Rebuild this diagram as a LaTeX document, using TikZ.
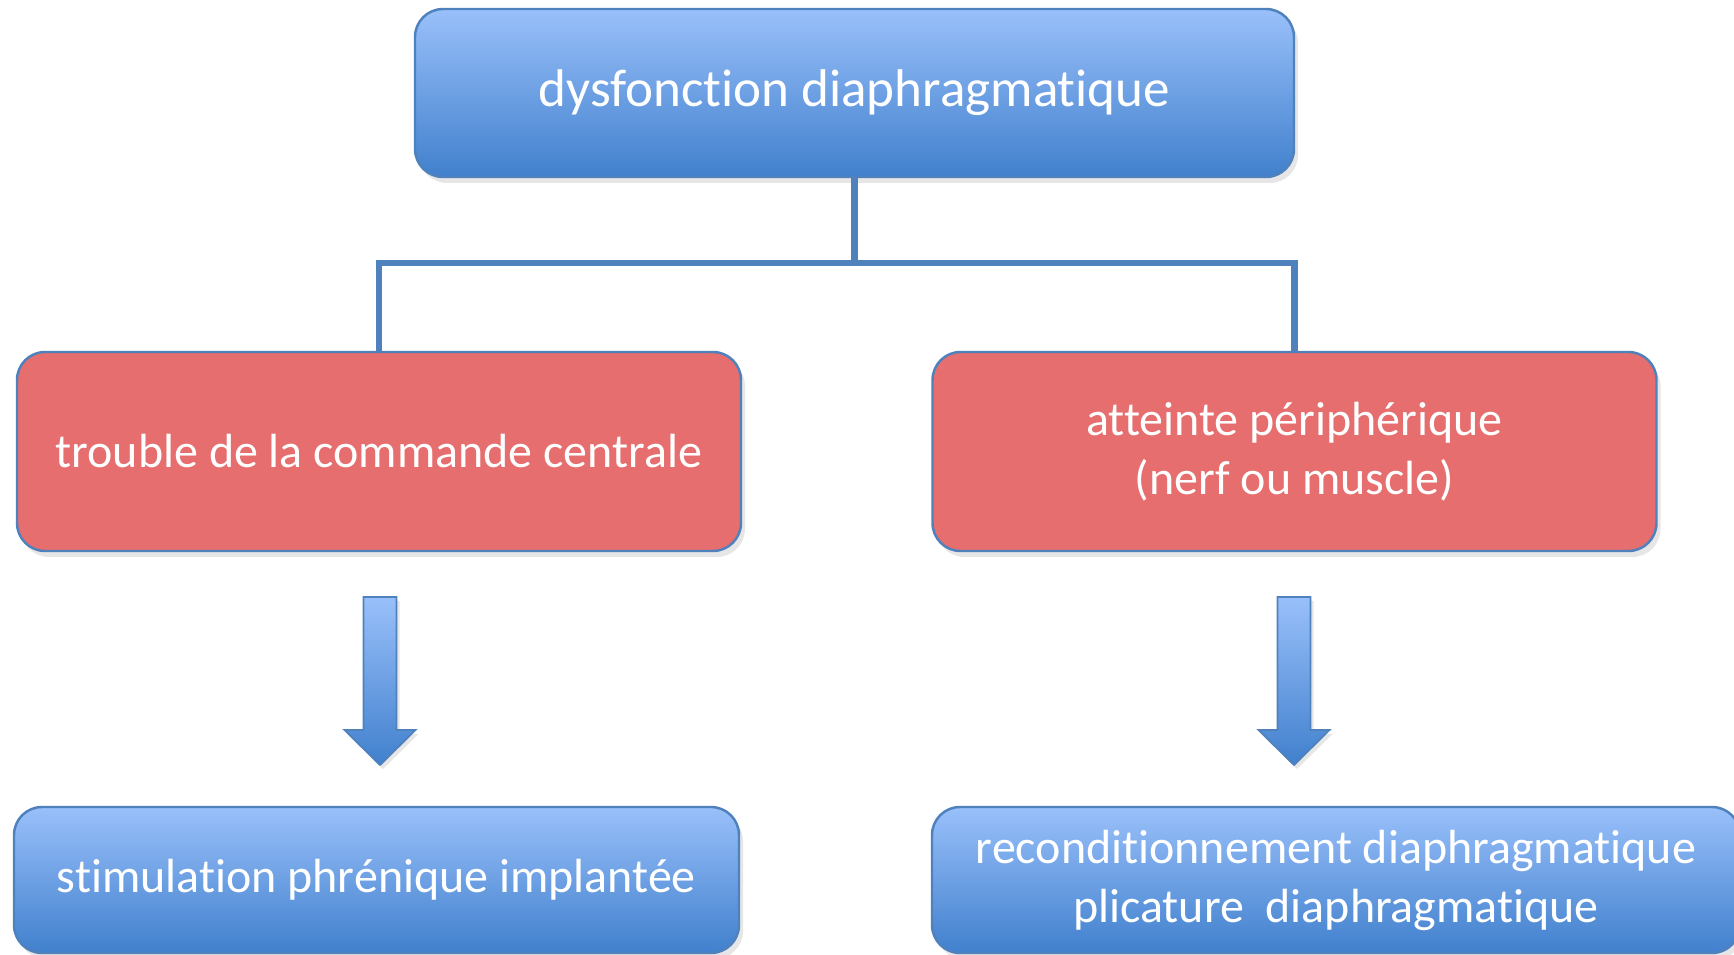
\documentclass[tikz,border=0pt]{standalone}
\usepackage{fontspec}
\setmainfont{Carlito}[Ligatures=NoCommon]
\usetikzlibrary{positioning,shadows}

\definecolor{boxtop}{RGB}{153,192,250}
\definecolor{boxbot}{RGB}{65,128,205}
\definecolor{boxline}{RGB}{79,129,189}
\definecolor{redfill}{RGB}{230,110,110}

\begin{document}
\begin{tikzpicture}[
  box/.style={draw=boxline, line width=0.7pt, rounded corners=0.28cm, text=white, align=center,
    drop shadow={shadow xshift=0.04cm, shadow yshift=-0.06cm, opacity=0.2}},
  bluebox/.style={box, top color=boxtop, bottom color=boxbot},
  redbox/.style={box, fill=redfill, minimum width=7.24cm, minimum height=1.99cm},
  link/.style={draw=boxline, line width=1.8pt},
  txt/.style={font=\fontsize{13.65}{16.8}\selectfont}
]
 \useasboundingbox (0,0) rectangle (17.34,9.55);

 %level 0
 \node[bluebox, minimum width=8.79cm, minimum height=1.68cm, font=\fontsize{15.1}{18}\selectfont] (dys) at (8.545,8.62) {dysfonction diaphragmatique};

 %level 1
 \node[redbox, txt] (central) at (3.79,5.035) {trouble de la commande centrale};
 \node[redbox, txt] (periph) at (12.945,5.035) {atteinte périphérique\\(nerf ou muscle)};

 %links
 \coordinate (fork) at (8.545,6.92);
 \draw[link] (dys.south) -- (fork);
 \draw[link] (fork) -| (central.north);
 \draw[link] (fork) -| (periph.north);

 %level 2
 \node[bluebox, txt, minimum width=7.25cm, minimum height=1.46cm] (stim) at (3.765,0.75) {stimulation phrénique implantée};
 \node[bluebox, txt, minimum width=8.08cm, minimum height=1.46cm] (recond) at (13.36,0.75) {reconditionnement diaphragmatique\\plicature\ \ diaphragmatique};

 %arrows
 \foreach \x in {3.80, 12.94} {
   \path[top color=boxtop, bottom color=boxbot, draw=boxline, line width=0.5pt,
     drop shadow={shadow xshift=0.03cm, shadow yshift=-0.04cm, opacity=0.2}]
     (\x-0.165,3.58) -- (\x+0.165,3.58) -- (\x+0.165,2.25) -- (\x+0.355,2.25)
     -- (\x,1.90) -- (\x-0.355,2.25) -- (\x-0.165,2.25) -- cycle;
 }

\end{tikzpicture}
\end{document}
